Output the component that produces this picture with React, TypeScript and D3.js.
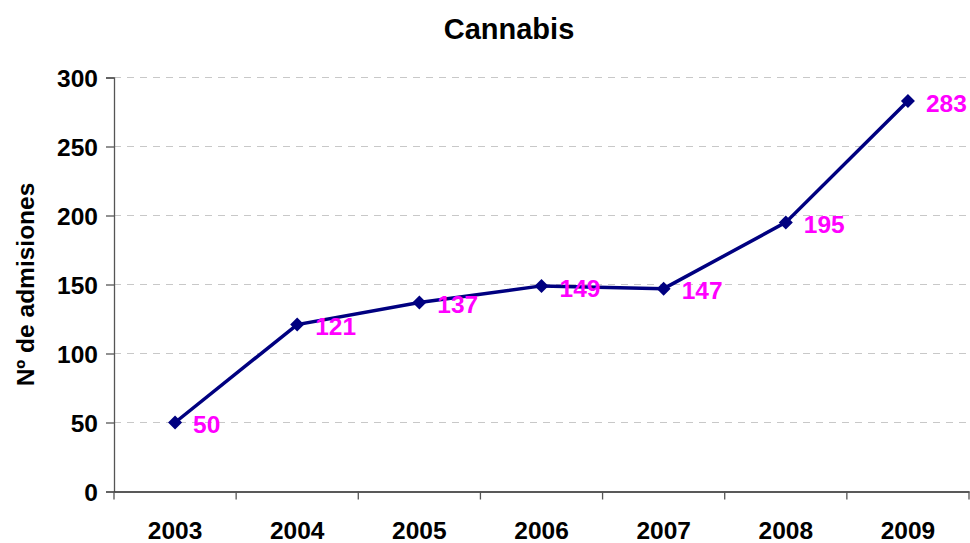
import React, { useEffect, useRef } from 'react';
import * as d3 from 'd3';

const years = ['2003', '2004', '2005', '2006', '2007', '2008', '2009'];
const admissions = [50, 121, 137, 149, 147, 195, 283];
const yTicks = [0, 50, 100, 150, 200, 250, 300];

const WIDTH = 970;
const HEIGHT = 543;
const FONT = '"Liberation Sans", Arial, sans-serif';

export default function App() {
  const svgRef = useRef<SVGSVGElement>(null);

  useEffect(() => {
    if (!svgRef.current) return;
    const svg = d3.select(svgRef.current);
    svg.selectAll('*').remove();

    const left = 114;
    const right = 969;
    const top = 77.5;
    const bottom = 491.5;

    const x = d3.scaleBand<string>().domain(years).range([left, right]).padding(0);
    const y = d3.scaleLinear().domain([0, 300]).range([bottom, top]);

    // gridlines
    svg.append('g')
      .selectAll('line')
      .data(yTicks.filter((d) => d > 0))
      .join('line')
      .attr('x1', left)
      .attr('x2', right)
      .attr('y1', (d) => y(d))
      .attr('y2', (d) => y(d))
      .attr('stroke', '#c8c8c8')
      .attr('stroke-width', 1)
      .attr('stroke-dasharray', '7,6');

    // y axis
    const yAxis = d3.axisLeft(y).tickValues(yTicks).tickSize(8).tickPadding(8);
    const gy = svg.append('g').attr('transform', `translate(${left},0)`).call(yAxis);
    gy.select('.domain').attr('stroke', '#555').attr('stroke-width', 1.3);
    gy.selectAll('.tick line').attr('stroke', '#555').attr('stroke-width', 1.3);
    gy.selectAll('.tick text')
      .attr('fill', '#000')
      .attr('font-family', FONT)
      .attr('font-weight', 'bold')
      .attr('font-size', 24.5)
      .attr('dy', '0.36em');

    // x axis
    const xAxis = d3.axisBottom(x).tickSize(0).tickPadding(30);
    const gx = svg.append('g').attr('transform', `translate(0,${bottom})`).call(xAxis);
    gx.select('.domain').attr('stroke', '#222').attr('stroke-width', 1.3);
    gx.selectAll('.tick text')
      .attr('fill', '#000')
      .attr('font-family', FONT)
      .attr('font-weight', 'bold')
      .attr('font-size', 24.5);
    // category boundary ticks
    svg.append('g')
      .selectAll('line')
      .data([...years.map((d) => x(d) as number), right])
      .join('line')
      .attr('x1', (d) => d)
      .attr('x2', (d) => d)
      .attr('y1', bottom)
      .attr('y2', bottom + 8)
      .attr('stroke', '#555')
      .attr('stroke-width', 1.3);

    const cx = (d: string) => (x(d) as number) + x.bandwidth() / 2;

    // line
    const line = d3.line<number>()
      .x((_, i) => cx(years[i]))
      .y((d) => y(d));
    svg.append('path')
      .datum(admissions)
      .attr('d', line)
      .attr('fill', 'none')
      .attr('stroke', '#000080')
      .attr('stroke-width', 3.5);

    // markers
    svg.append('g')
      .selectAll('path')
      .data(admissions)
      .join('path')
      .attr('transform', (d, i) => `translate(${cx(years[i])},${y(d)})`)
      .attr('d', 'M0,-7L7,0L0,7L-7,0Z')
      .attr('fill', '#000080');

    // value labels
    svg.append('g')
      .selectAll('text')
      .data(admissions)
      .join('text')
      .attr('x', (d, i) => cx(years[i]) + 18)
      .attr('y', (d) => y(d) + 2)
      .attr('dy', '0.36em')
      .attr('fill', '#ff00ff')
      .attr('font-family', FONT)
      .attr('font-weight', 'bold')
      .attr('font-size', 24.5)
      .text((d) => d);

    // title
    svg.append('text')
      .attr('x', 509)
      .attr('y', 39)
      .attr('text-anchor', 'middle')
      .attr('font-family', FONT)
      .attr('font-weight', 'bold')
      .attr('font-size', 29)
      .text('Cannabis');

    // y axis title
    svg.append('text')
      .attr('transform', `translate(34,${(top + bottom) / 2}) rotate(-90)`)
      .attr('text-anchor', 'middle')
      .attr('font-family', FONT)
      .attr('font-weight', 'bold')
      .attr('font-size', 24.5)
      .text('Nº de admisiones');
  }, []);

  return (
    <svg
      ref={svgRef}
      width={WIDTH}
      height={HEIGHT}
      style={{ position: 'absolute', left: 0, top: 0, background: '#fff' }}
    />
  );
}
